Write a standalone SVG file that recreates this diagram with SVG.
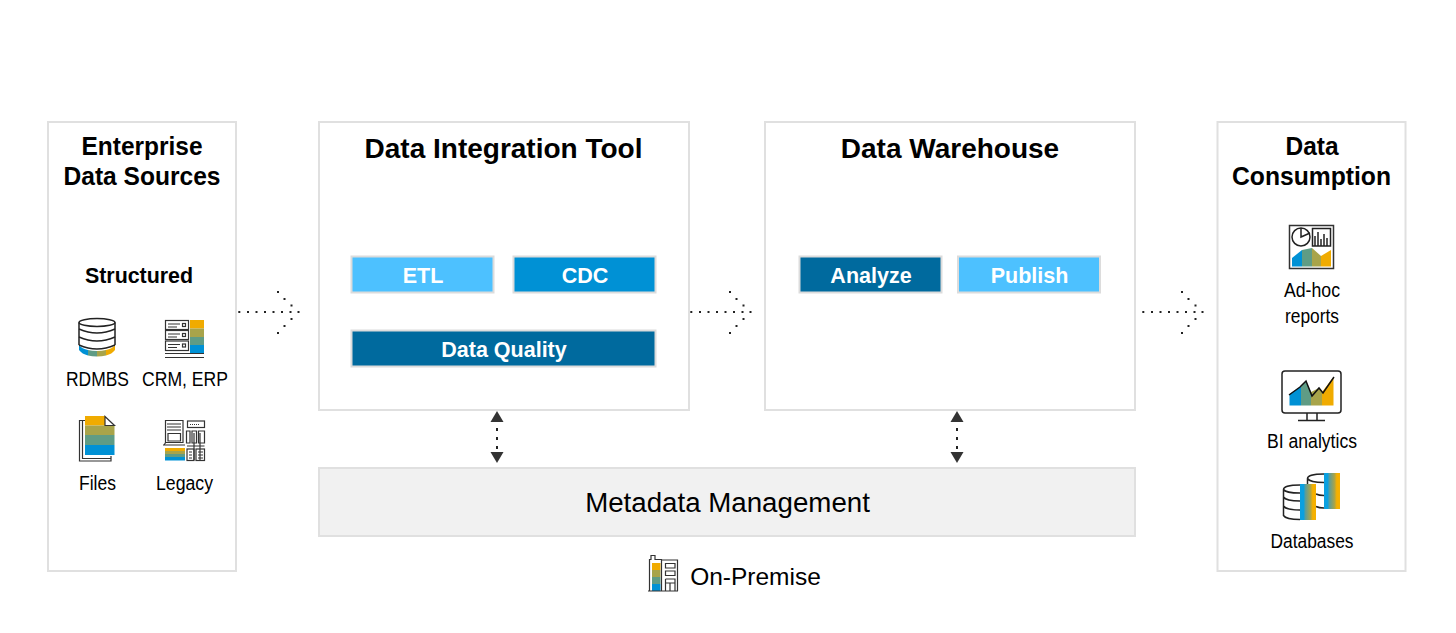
<svg xmlns="http://www.w3.org/2000/svg" width="1456" height="633" viewBox="0 0 1456 633">
<style>
text{font-family:"Liberation Sans",Arial,sans-serif;text-anchor:middle;fill:#000}
.panel{fill:#fff;stroke:#e0e0e0;stroke-width:2}
.title{font-size:28px;font-weight:700}
.stitle{font-size:25px;font-weight:700}
.sub{font-size:21.400px;font-weight:700}
.lab{font-size:20px}
.btn{stroke:#dcdcdc;stroke-width:2}
.bt{font-size:21.500px;font-weight:700;fill:#fff}
.ln{fill:none;stroke:#222;stroke-width:1.500}
.thin{fill:none;stroke:#333;stroke-width:1.200}
.tri{fill:#333}
.d{fill:#222}
</style>
<defs>
<linearGradient id="g"><stop offset="0" stop-color="#0aa0e0"/><stop offset=".22" stop-color="#0aa0e0"/><stop offset=".35" stop-color="#5f9c95"/><stop offset=".65" stop-color="#a8a44a"/><stop offset=".8" stop-color="#f5b000"/><stop offset="1" stop-color="#f5b000"/></linearGradient>
<g id="flow">
<rect class="d" x="-0.700" y="311" width="2" height="2"/><rect class="d" x="8" y="311" width="2" height="2"/><rect class="d" x="16.500" y="311" width="2" height="2"/><rect class="d" x="25" y="311" width="2" height="2"/><rect class="d" x="33.500" y="311" width="2" height="2"/><rect class="d" x="42" y="311" width="2" height="2"/><rect class="d" x="50.500" y="311" width="2" height="2"/><rect class="d" x="58.500" y="311" width="2" height="2"/>
<rect class="d" x="38" y="291" width="2" height="2"/><rect class="d" x="44.500" y="298" width="2" height="2"/><rect class="d" x="51.500" y="304.500" width="2" height="2"/><rect class="d" x="51.500" y="318" width="2" height="2"/><rect class="d" x="44.500" y="325" width="2" height="2"/><rect class="d" x="38" y="332" width="2" height="2"/>
</g>
<g id="bi">
<rect class="d" x="-1" y="17" width="2" height="3"/><rect class="d" x="-1" y="26" width="2" height="3"/><rect class="d" x="-1" y="35" width="2" height="3"/>
<path class="tri" d="M0 0L6.500 11H-6.500Z"/>
<path class="tri" d="M-6.500 41H6.500L0 52Z"/>
</g>
</defs>

<g id="sources">
<rect class="panel" x="48" y="122" width="188" height="449"/>
<text class="stitle" x="142" y="155" textLength="121" lengthAdjust="spacingAndGlyphs">Enterprise</text>
<text class="stitle" x="142" y="185" textLength="157" lengthAdjust="spacingAndGlyphs">Data Sources</text>
<text class="sub" x="139" y="283">Structured</text>
<g id="icon-rdbms">
<path d="M79 345Q82 349 88 350V355.500Q82 354 79 350Z" fill="#0091d5"/>
<path d="M88 350Q92 351 97 351V356.500Q92 356.500 88 355.500Z" fill="#5f9c85"/>
<path d="M97 351Q102 351 106 350V355.500Q102 356.500 97 356.500Z" fill="#a8a44a"/>
<path d="M106 350Q112 349 115 345V350Q112 354 106 355.500Z" fill="#f0ab00"/>
<path class="ln" d="M79 322.500V345M115 322.500V345"/>
<ellipse class="ln" cx="97" cy="322.500" rx="18" ry="4"/>
<path class="ln" d="M79 329Q97 337 115 329M79 337Q97 345 115 337M79 345Q97 353 115 345"/>
</g>
<text class="lab" x="97.500" y="386" textLength="63" lengthAdjust="spacingAndGlyphs">RDMBS</text>
<g id="icon-crm">
<rect x="190" y="320" width="14" height="8.500" fill="#f0ab00"/>
<rect x="190" y="328.500" width="14" height="8.500" fill="#a8a44a"/>
<rect x="190" y="337" width="14" height="8" fill="#5f9c85"/>
<rect x="190" y="345" width="14" height="8" fill="#0091d5"/>
<rect class="thin" x="165.500" y="320.500" width="23" height="9"/>
<rect class="thin" x="165.500" y="330.500" width="23" height="9"/>
<rect class="thin" x="165.500" y="341" width="23" height="9.500"/>
<path class="thin" d="M168 324H180M168 327H177M168 334H180M168 337H177M168 344.500H180M168 347.500H177"/>
<path class="thin" d="M165 353.500H204M165 357.500H204"/>
<rect class="thin" x="182.500" y="323.500" width="3" height="3"/>
<rect class="thin" x="182.500" y="333.500" width="3" height="3"/>
<rect class="thin" x="182.500" y="344" width="3" height="3"/>
</g>
<text class="lab" x="185" y="386" textLength="86" lengthAdjust="spacingAndGlyphs">CRM, ERP</text>
<g id="icon-files">
<path class="thin" d="M85 420.500H79.500V461H111V456"/>
<path class="thin" d="M82.500 421V458.500H111"/>
<rect x="85" y="416" width="20" height="9.500" fill="#f0ab00"/>
<rect x="85" y="425.500" width="29.500" height="9.500" fill="#a8a44a"/>
<rect x="85" y="435" width="29.500" height="10" fill="#5f9c85"/>
<rect x="85" y="445" width="29.500" height="10" fill="#0091d5"/>
<path class="thin" d="M105 416.500L114.500 425.500H105Z"/>
</g>
<text class="lab" x="97.500" y="490" textLength="37" lengthAdjust="spacingAndGlyphs">Files</text>
<g id="icon-legacy">
<path class="thin" d="M165.500 420.500H183V442.500H165.500ZM167 424H181M167 427H181M167 430H181M168 433.500H180.500V441H168Z"/>
<path class="thin" d="M163 445H185M164 445L166 442"/>
<rect class="thin" x="187.500" y="421" width="17" height="6.500"/>
<path class="thin" d="M190 424.500H199" stroke-dasharray="1 1" stroke-width="2.500"/>
<path class="thin" d="M186.500 431H190V443H186.500ZM192 431H196.500V443H192ZM198.500 431H204.500V443H198.500ZM194 433V460M200 433V460M187 446H204.500"/>
<rect x="165" y="448" width="20" height="3" fill="#f0ab00"/>
<rect x="165" y="451" width="20" height="3" fill="#a8a44a"/>
<rect x="165" y="454" width="20" height="3" fill="#5f9c85"/>
<rect x="165" y="457" width="20" height="3.500" fill="#0091d5"/>
<rect class="thin" x="187" y="449" width="7" height="11.500"/>
<rect class="thin" x="196" y="449" width="8.500" height="11.500"/>
<path class="thin" d="M189 452H192M189 455H192M189 458H192M198 452H203M198 455H203M198 458H203"/>
</g>
<text class="lab" x="184.500" y="490" textLength="57" lengthAdjust="spacingAndGlyphs">Legacy</text>
</g>

<g id="integration">
<rect class="panel" x="319" y="122" width="370" height="288"/>
<text class="title" x="503.500" y="158">Data Integration Tool</text>
</g>
<g id="etl"><rect class="btn" x="351.500" y="256.500" width="142" height="36" fill="#4dc1ff"/><text class="bt" x="423" y="283">ETL</text></g>
<g id="cdc"><rect class="btn" x="513.500" y="256.500" width="142" height="36" fill="#0091d5"/><text class="bt" x="585" y="283">CDC</text></g>
<g id="quality"><rect class="btn" x="351.500" y="330.500" width="304" height="36" fill="#006a9e"/><text class="bt" x="504" y="357">Data Quality</text></g>

<g id="warehouse">
<rect class="panel" x="765" y="122" width="370" height="288"/>
<text class="title" x="950" y="158">Data Warehouse</text>
</g>
<g id="analyze"><rect class="btn" x="799.500" y="256.500" width="142" height="36" fill="#006a9e"/><text class="bt" x="871" y="283">Analyze</text></g>
<g id="publish"><rect class="btn" x="958" y="256.500" width="142" height="36" fill="#4dc1ff"/><text class="bt" x="1029.500" y="283">Publish</text></g>

<g id="consumption">
<rect class="panel" x="1217.500" y="122" width="188" height="449"/>
<text class="stitle" x="1312" y="155" textLength="53" lengthAdjust="spacingAndGlyphs">Data</text>
<text class="stitle" x="1311.500" y="185" textLength="159" lengthAdjust="spacingAndGlyphs">Consumption</text>
<g id="icon-adhoc">
<rect x="1289.500" y="225.500" width="44" height="43" fill="#fff" stroke="#333" stroke-width="1.500"/>
<circle cx="1301" cy="237" r="9" class="ln"/>
<path class="ln" d="M1301 228V237L1310 233"/>
<rect class="ln" x="1312.500" y="228.500" width="18" height="17.500"/>
<path class="ln" d="M1315 246V236M1318 246V232M1321 246V239M1324 246V234M1327 246V238"/>
<path d="M1292 266.500V258L1302 250V266.500Z" fill="#0091d5"/>
<path d="M1302 250L1312 248V266.500H1302Z" fill="#5f9c85"/>
<path d="M1312 248L1321 256V266.500H1312Z" fill="#a8a44a"/>
<path d="M1321 256L1331 250V266.500H1321Z" fill="#f0ab00"/>
</g>
<text class="lab" x="1312" y="297" textLength="56" lengthAdjust="spacingAndGlyphs">Ad-hoc</text>
<text class="lab" x="1312" y="323" textLength="54" lengthAdjust="spacingAndGlyphs">reports</text>
<g id="icon-bi">
<rect x="1282" y="371" width="59" height="42" rx="3" fill="#fff" stroke="#222" stroke-width="1.500"/>
<path class="ln" d="M1307 413V420M1317 413V420M1298 420.500H1325"/>
<path d="M1289.500 405.500V394L1300 387L1301 386V405.500Z" fill="#0091d5"/>
<path d="M1301 386L1306 381L1311 392V405.500H1301Z" fill="#5f9c85"/>
<path d="M1311 392L1319 388L1322 392V405.500H1311Z" fill="#a8a44a"/>
<path d="M1322 392L1333.500 377V405.500H1322Z" fill="#f0ab00"/>
<path d="M1289 395L1300 387L1306 381L1312 396L1319 388L1323 393L1334 377" fill="none" stroke="#111" stroke-width="1.500"/>
</g>
<text class="lab" x="1312" y="448" textLength="90" lengthAdjust="spacingAndGlyphs">BI analytics</text>
<g id="icon-db">
<rect x="1324" y="473" width="16" height="36" fill="url(#g)"/>
<path class="ln" d="M1324 474C1313 474 1307.500 476 1307.500 478.500V484.500M1307.500 478.500C1309 481 1316 482.500 1324 482.500M1316 494C1318 495 1321 495.500 1324 495.500M1316 506.500C1318 507.500 1321 508 1324 508"/>
<rect x="1300" y="484" width="16" height="36" fill="url(#g)"/>
<path class="ln" d="M1300 485C1289 485 1283.500 487 1283.500 489.500V515.500C1285 518 1292 519.500 1300 519.500M1283.500 489.500C1285 492 1292 493 1300 493M1283.500 497C1285 499.500 1292 501 1300 501M1283.500 506C1285 508.500 1292 510 1300 510"/>
</g>
<text class="lab" x="1312" y="548" textLength="83" lengthAdjust="spacingAndGlyphs">Databases</text>
</g>

<g id="metadata">
<rect x="319" y="468" width="816" height="68" fill="#f1f1f1" stroke="#e0e0e0" stroke-width="2"/>
<text x="727.500" y="512" font-size="27.700">Metadata Management</text>
</g>

<g id="onpremise">
<rect x="652" y="563" width="8.500" height="7" fill="#f0ab00"/>
<rect x="652" y="570" width="8.500" height="7" fill="#a8a44a"/>
<rect x="652" y="577" width="8.500" height="7" fill="#5f9c85"/>
<rect x="652" y="584" width="8.500" height="7" fill="#0091d5"/>
<path class="thin" d="M649.500 591V559.500H651V555.500H655V559.500H661.500V591M648 591H678M662 560H677.500V591"/>
<path class="thin" d="M665.500 563.500H675V568H665.500ZM665.500 571H675V575.500H665.500ZM665.500 579H675V591M665.500 579V591M670 583V591M665.500 583H675"/>
<text x="755.500" y="585" font-size="24.500">On-Premise</text>
</g>

<g id="connectors">
<use href="#flow" x="239"/>
<use href="#flow" x="691"/>
<use href="#flow" x="1143"/>
<use href="#bi" x="497" y="411"/>
<use href="#bi" x="957" y="411"/>
</g>
</svg>
